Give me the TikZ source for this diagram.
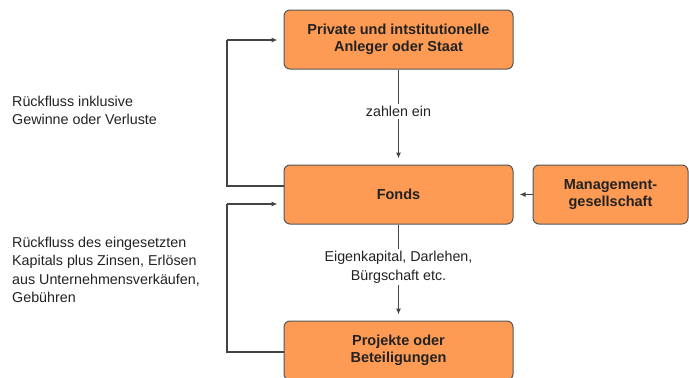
\documentclass[tikz,border=0pt]{standalone}
\usepackage{fontspec}
\setmainfont{Liberation Sans}
\usetikzlibrary{arrows.meta}
\definecolor{boxorange}{HTML}{FD9B55}
\definecolor{boxline}{HTML}{555555}
\definecolor{lineg}{HTML}{444444}
\definecolor{txt}{HTML}{222222}
\tikzset{
  box/.style={draw=boxline, line width=1pt, fill=boxorange, rounded corners=6pt,
    minimum width=229pt, minimum height=59pt, align=center, inner sep=0pt,
    font=\fontsize{14.5}{17.5}\selectfont\bfseries, text=txt},
  conn/.style={draw=lineg, line width=1.1pt, -{Latex[length=6pt,width=5pt]}},
  plain/.style={draw=lineg, line width=1.1pt},
  lbl/.style={fill=white, align=center, inner sep=2pt, font=\fontsize{14.3}{19}\selectfont, text=txt},
  side/.style={anchor=north west, align=left, inner sep=0pt, font=\fontsize{14.3}{18.3}\selectfont, text=txt}
}
\begin{document}
\begin{tikzpicture}[x=1pt,y=-1pt]
\useasboundingbox (0,0) rectangle (689,378);
\clip (0,0) rectangle (689,378);
\node[box] (anleger) at (398.5,39.5) {Private und intstitutionelle\\Anleger oder Staat};
\node[box] (fonds) at (398.5,194.5) {Fonds};
\node[box] (projekte) at (398.5,350.5) {Projekte oder\\Beteiligungen};
\node[box, minimum width=155pt] (mgmt) at (610.5,194.5) {Management-\\gesellschaft};

\coordinate (c1) at (227,186);
\coordinate (c2) at (227,40);
\coordinate (c3) at (227,352);
\coordinate (c4) at (227,204);

\draw[conn] (anleger.south) -- node[lbl, pos=0.47] (zl) {zahlen ein} ([yshift=6pt]fonds.north);
\draw[conn] (fonds.south) -- node[lbl, pos=0.47] (el) {Eigenkapital, Darlehen,\\Bürgschaft etc.} ([yshift=6pt]projekte.north);
\draw[plain] (fonds.west |- c1) -- (c1) -- (c2);
\draw[conn] (c2) -- ([xshift=-6pt]anleger.west |- c2);
\draw[plain] (projekte.west |- c3) -- (c3) -- (c4);
\draw[conn] (c4) -- ([xshift=-6pt]fonds.west |- c4);
\draw[conn] (mgmt.west) -- ([xshift=6pt]fonds.east);

\node[side] (t1) at (12,96) {Rückfluss inklusive\\Gewinne oder Verluste};
\node[side] (t2) at (12,237) {Rückfluss des eingesetzten\\Kapitals plus Zinsen, Erlösen\\aus Unternehmensverkäufen,\\Gebühren};
\end{tikzpicture}
\end{document}
